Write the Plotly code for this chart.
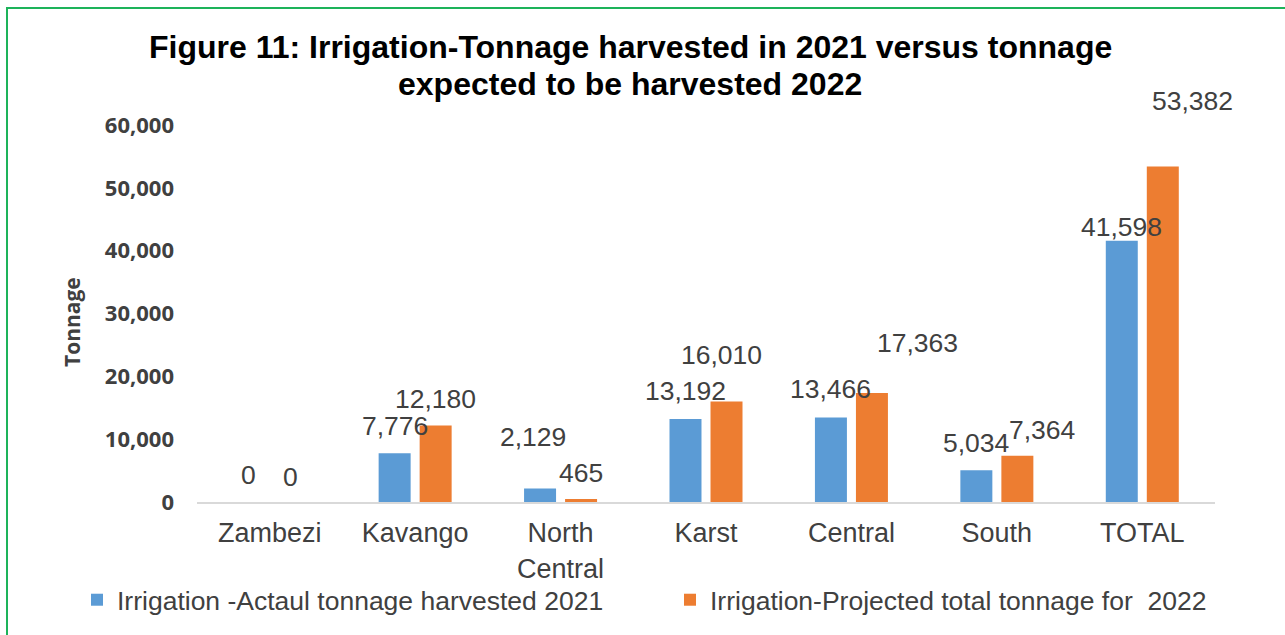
import plotly.graph_objects as go

# Regions and tonnage values
regions = ["Zambezi", "Kavango", "North<br>Central", "Karst", "Central", "South", "TOTAL"]
actual_2021 = [0, 7776, 2129, 13192, 13466, 5034, 41598]
projected_2022 = [0, 12180, 465, 16010, 17363, 7364, 53382]

series_names = [
    "Irrigation -Actaul tonnage harvested 2021",
    "Irrigation-Projected total tonnage for  2022",
]
title_lines = [
    "Figure 11: Irrigation-Tonnage harvested in 2021 versus tonnage",
    "expected to be harvested 2022",
]
y_title = "Tonnage"
y_ticks = [0, 10000, 20000, 30000, 40000, 50000, 60000]

BLUE = "#5b9bd5"
ORANGE = "#ed7d31"
TEXT = "#404040"
ARIAL = "Liberation Sans, Arial, sans-serif"
OPEN = "Open Sans, sans-serif"

W, H = 1285, 635
M_L, M_R, M_T, M_B = 197, 70, 125, 133
PLOT_W = W - M_L - M_R
PLOT_H = H - M_T - M_B


def px_to_paper_x(px):
    return (px - M_L) / PLOT_W


def px_to_paper_y(py):
    return (H - M_B - py) / PLOT_H


# Manual pixel nudges for the value labels (dx, rise above bar top)
nudge_actual = [(-1, 27), (0, 27), (-7, 52), (0, 28), (0, 28), (0, 27), (0, 14)]
nudge_projected = [(0, 25), (0, 26), (0, 26), (-5, 46), (46, 50), (25, 26), (30, 66)]
BAR_OFFSET = 20.5

fig = go.Figure()
fig.add_trace(go.Bar(x=regions, y=actual_2021, name=series_names[0],
                     marker=dict(color=BLUE, line=dict(width=0))))
fig.add_trace(go.Bar(x=regions, y=projected_2022, name=series_names[1],
                     marker=dict(color=ORANGE, line=dict(width=0))))

annotations = []
for values, nudges, side in ((actual_2021, nudge_actual, -1), (projected_2022, nudge_projected, 1)):
    for cat, val, (dx, rise) in zip(regions, values, nudges):
        annotations.append(dict(
            x=cat, y=val, xref="x", yref="y",
            text=f"{val:,}", showarrow=False,
            xanchor="center", yanchor="middle",
            xshift=side * BAR_OFFSET + dx, yshift=rise,
            font=dict(family=ARIAL, size=26.5, color=TEXT),
        ))

# Two-line chart title
for line, cy in zip(title_lines, (47, 84)):
    annotations.append(dict(
        x=px_to_paper_x(630), y=px_to_paper_y(cy), xref="paper", yref="paper",
        text=f"<b>{line}</b>", showarrow=False, xanchor="center", yanchor="middle",
        font=dict(family=ARIAL, size=32, color="black"),
    ))

# Vertical axis title
annotations.append(dict(
    x=px_to_paper_x(72), y=px_to_paper_y(322), xref="paper", yref="paper",
    text=f"<b>{y_title}</b>", showarrow=False, textangle=-90,
    xanchor="center", yanchor="middle",
    font=dict(family=OPEN, size=21, color=TEXT),
))

fig.update_layout(
    width=W, height=H,
    margin=dict(l=M_L, r=M_R, t=M_T, b=M_B, autoexpand=False),
    paper_bgcolor="white", plot_bgcolor="white",
    barmode="group", bargap=0.436, bargroupgap=0.22,
    xaxis=dict(
        range=[-0.5, len(regions) - 0.5], fixedrange=True,
        showgrid=False, showline=True, linecolor="#d9d9d9", linewidth=2,
        ticks="", tickfont=dict(family=ARIAL, size=27, color=TEXT),
        ticklabelstandoff=6, automargin=False,
    ),
    yaxis=dict(
        range=[0, 60000], tickvals=y_ticks, tickformat=",d",
        showgrid=False, zeroline=False, showline=False, ticks="",
        tickfont=dict(family=OPEN, size=22, color=TEXT, weight="bold"),
        ticklabelstandoff=22, automargin=False,
    ),
    legend=dict(
        orientation="h", xref="paper", yref="paper",
        x=px_to_paper_x(77), xanchor="left", y=px_to_paper_y(600), yanchor="middle",
        font=dict(family=ARIAL, size=26.5, color=TEXT),
        bgcolor="rgba(0,0,0,0)",
        entrywidth=548, entrywidthmode="pixels",
        itemclick=False,
    ),
    annotations=annotations,
    shapes=[dict(
        type="rect", xref="paper", yref="paper",
        x0=px_to_paper_x(7), x1=1.2, y0=-1.0, y1=px_to_paper_y(8),
        line=dict(color="#1db35a", width=2), fillcolor="rgba(0,0,0,0)", layer="above",
    )],
)

fig.write_html("out.html")
